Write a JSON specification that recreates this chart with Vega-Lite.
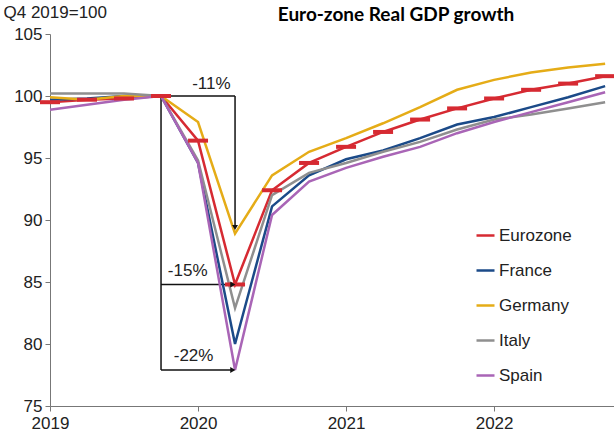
{
  "$schema": "https://vega.github.io/schema/vega-lite/v6.json",
  "width": 564,
  "height": 372,
  "autosize": "none",
  "padding": {"left": 50, "top": 34, "right": 0, "bottom": 28},
  "background": "white",
  "title": {"text": "Euro-zone Real GDP growth", "font": "Lato", "fontWeight": "bold", "fontSize": 19, "anchor": "middle", "dx": 64, "offset": -22, "color": "#000"},
  "config": {
    "view": {"stroke": null},
    "font": "Liberation Sans",
    "axis": {"domainColor": "#777", "tickColor": "#777", "labelFont": "Liberation Sans", "labelFontSize": 17, "labelColor": "#222", "grid": false, "tickSize": 5, "domainWidth": 1, "tickWidth": 1, "labelFlush": false}
  },
  "datasets": {
    "gdp": [
      {"t": 2019.0, "country": "Eurozone", "v": 99.5}, {"t": 2019.25, "country": "Eurozone", "v": 99.7}, {"t": 2019.5, "country": "Eurozone", "v": 99.8}, {"t": 2019.75, "country": "Eurozone", "v": 100}, {"t": 2020.0, "country": "Eurozone", "v": 96.4}, {"t": 2020.25, "country": "Eurozone", "v": 84.8}, {"t": 2020.5, "country": "Eurozone", "v": 92.4}, {"t": 2020.75, "country": "Eurozone", "v": 94.6}, {"t": 2021.0, "country": "Eurozone", "v": 95.9}, {"t": 2021.25, "country": "Eurozone", "v": 97.1}, {"t": 2021.5, "country": "Eurozone", "v": 98.1}, {"t": 2021.75, "country": "Eurozone", "v": 99.0}, {"t": 2022.0, "country": "Eurozone", "v": 99.8}, {"t": 2022.25, "country": "Eurozone", "v": 100.5}, {"t": 2022.5, "country": "Eurozone", "v": 101.0}, {"t": 2022.75, "country": "Eurozone", "v": 101.6},
      {"t": 2019.0, "country": "France", "v": 99.7}, {"t": 2019.25, "country": "France", "v": 99.8}, {"t": 2019.5, "country": "France", "v": 100.0}, {"t": 2019.75, "country": "France", "v": 100}, {"t": 2020.0, "country": "France", "v": 94.6}, {"t": 2020.25, "country": "France", "v": 80.0}, {"t": 2020.5, "country": "France", "v": 91.1}, {"t": 2020.75, "country": "France", "v": 93.6}, {"t": 2021.0, "country": "France", "v": 94.9}, {"t": 2021.25, "country": "France", "v": 95.6}, {"t": 2021.5, "country": "France", "v": 96.6}, {"t": 2021.75, "country": "France", "v": 97.7}, {"t": 2022.0, "country": "France", "v": 98.3}, {"t": 2022.25, "country": "France", "v": 99.1}, {"t": 2022.5, "country": "France", "v": 99.9}, {"t": 2022.75, "country": "France", "v": 100.8},
      {"t": 2019.0, "country": "Germany", "v": 99.9}, {"t": 2019.25, "country": "Germany", "v": 99.7}, {"t": 2019.5, "country": "Germany", "v": 100.0}, {"t": 2019.75, "country": "Germany", "v": 100}, {"t": 2020.0, "country": "Germany", "v": 97.9}, {"t": 2020.25, "country": "Germany", "v": 88.9}, {"t": 2020.5, "country": "Germany", "v": 93.6}, {"t": 2020.75, "country": "Germany", "v": 95.5}, {"t": 2021.0, "country": "Germany", "v": 96.6}, {"t": 2021.25, "country": "Germany", "v": 97.8}, {"t": 2021.5, "country": "Germany", "v": 99.1}, {"t": 2021.75, "country": "Germany", "v": 100.5}, {"t": 2022.0, "country": "Germany", "v": 101.3}, {"t": 2022.25, "country": "Germany", "v": 101.9}, {"t": 2022.5, "country": "Germany", "v": 102.3}, {"t": 2022.75, "country": "Germany", "v": 102.6},
      {"t": 2019.0, "country": "Italy", "v": 100.2}, {"t": 2019.25, "country": "Italy", "v": 100.2}, {"t": 2019.5, "country": "Italy", "v": 100.2}, {"t": 2019.75, "country": "Italy", "v": 100}, {"t": 2020.0, "country": "Italy", "v": 94.8}, {"t": 2020.25, "country": "Italy", "v": 82.9}, {"t": 2020.5, "country": "Italy", "v": 92.0}, {"t": 2020.75, "country": "Italy", "v": 93.8}, {"t": 2021.0, "country": "Italy", "v": 94.6}, {"t": 2021.25, "country": "Italy", "v": 95.5}, {"t": 2021.5, "country": "Italy", "v": 96.3}, {"t": 2021.75, "country": "Italy", "v": 97.3}, {"t": 2022.0, "country": "Italy", "v": 98.1}, {"t": 2022.25, "country": "Italy", "v": 98.5}, {"t": 2022.5, "country": "Italy", "v": 99.0}, {"t": 2022.75, "country": "Italy", "v": 99.5},
      {"t": 2019.0, "country": "Spain", "v": 98.9}, {"t": 2019.25, "country": "Spain", "v": 99.3}, {"t": 2019.5, "country": "Spain", "v": 99.7}, {"t": 2019.75, "country": "Spain", "v": 100}, {"t": 2020.0, "country": "Spain", "v": 94.6}, {"t": 2020.25, "country": "Spain", "v": 77.9}, {"t": 2020.5, "country": "Spain", "v": 90.4}, {"t": 2020.75, "country": "Spain", "v": 93.1}, {"t": 2021.0, "country": "Spain", "v": 94.2}, {"t": 2021.25, "country": "Spain", "v": 95.1}, {"t": 2021.5, "country": "Spain", "v": 95.9}, {"t": 2021.75, "country": "Spain", "v": 97.0}, {"t": 2022.0, "country": "Spain", "v": 97.9}, {"t": 2022.25, "country": "Spain", "v": 98.7}, {"t": 2022.5, "country": "Spain", "v": 99.5}, {"t": 2022.75, "country": "Spain", "v": 100.3}
    ],
    "brackets": [
      {"x1": 2019.75, "x2": 2020.25, "y1": 100, "y2": 100},
      {"x1": 2019.75, "x2": 2019.75, "y1": 100, "y2": 77.9},
      {"x1": 2020.25, "x2": 2020.25, "y1": 100, "y2": 89.5},
      {"x1": 2019.75, "x2": 2020.24, "y1": 84.8, "y2": 84.8},
      {"x1": 2019.75, "x2": 2020.24, "y1": 77.9, "y2": 77.9}
    ],
    "arrows": [
      {"x": 2020.25, "y": 89.4, "shape": "triangle-down"},
      {"x": 2020.235, "y": 84.8, "shape": "triangle-right"},
      {"x": 2020.235, "y": 77.9, "shape": "triangle-right"}
    ],
    "labels": [
      {"x": 2020.09, "y": 100.55, "label": "-11%"},
      {"x": 2019.93, "y": 85.5, "label": "-15%"},
      {"x": 2019.97, "y": 78.6, "label": "-22%"}
    ]
  },
  "layer": [
    {
      "data": {"name": "brackets"},
      "mark": {"type": "rule", "color": "#111", "strokeWidth": 1.5},
      "encoding": {
        "x": {"field": "x1", "type": "quantitative", "scale": {"domain": [2019, 2022.81], "nice": false, "zero": false}, "axis": {"values": [2019, 2020, 2021, 2022], "format": "d", "title": null, "labelPadding": 4}},
        "x2": {"field": "x2"},
        "y": {"field": "y1", "type": "quantitative", "scale": {"domain": [75, 105], "nice": false, "zero": false}, "axis": {"values": [75, 80, 85, 90, 95, 100, 105], "title": "Q4 2019=100", "titleAngle": 0, "titleAlign": "left", "titleX": -47, "titleY": -17, "titleBaseline": "alphabetic", "titleFontWeight": "normal", "titleFontSize": 17, "titleFont": "Liberation Sans", "titleColor": "#222", "labelPadding": 3}},
        "y2": {"field": "y2"}
      }
    },
    {
      "data": {"name": "gdp"},
      "mark": {"type": "line", "strokeWidth": 2.5},
      "encoding": {
        "x": {"field": "t", "type": "quantitative"},
        "y": {"field": "v", "type": "quantitative"},
        "color": {"field": "country", "type": "nominal",
          "scale": {"domain": ["Eurozone", "France", "Germany", "Italy", "Spain"], "range": ["#d62a32", "#1b4a88", "#e5ac17", "#8f8f8f", "#a965b6"]},
          "legend": {"orient": "none", "legendX": 425, "legendY": 191, "title": null, "symbolType": "stroke", "symbolSize": 324, "symbolStrokeWidth": 2.5, "labelFontSize": 17, "labelFont": "Liberation Sans", "labelColor": "#222", "rowPadding": 16, "labelOffset": 3}},
        "order": {"field": "t", "type": "quantitative"}
      }
    },
    {
      "data": {"name": "gdp"},
      "transform": [{"filter": "datum.country === 'Eurozone'"}],
      "mark": {"type": "point", "shape": "stroke", "size": 400, "strokeWidth": 4, "color": "#d62a32", "filled": false, "opacity": 1},
      "encoding": {
        "x": {"field": "t", "type": "quantitative"},
        "y": {"field": "v", "type": "quantitative"}
      }
    },
    {
      "data": {"name": "arrows"},
      "mark": {"type": "point", "filled": true, "color": "#111", "size": 35, "opacity": 1},
      "encoding": {
        "x": {"field": "x", "type": "quantitative"},
        "y": {"field": "y", "type": "quantitative"},
        "shape": {"field": "shape", "type": "nominal", "scale": null}
      }
    },
    {
      "data": {"name": "labels"},
      "mark": {"type": "text", "font": "Liberation Sans", "fontSize": 17, "color": "#222", "align": "center", "baseline": "alphabetic"},
      "encoding": {
        "x": {"field": "x", "type": "quantitative"},
        "y": {"field": "y", "type": "quantitative"},
        "text": {"field": "label", "type": "nominal"}
      }
    }
  ]
}
